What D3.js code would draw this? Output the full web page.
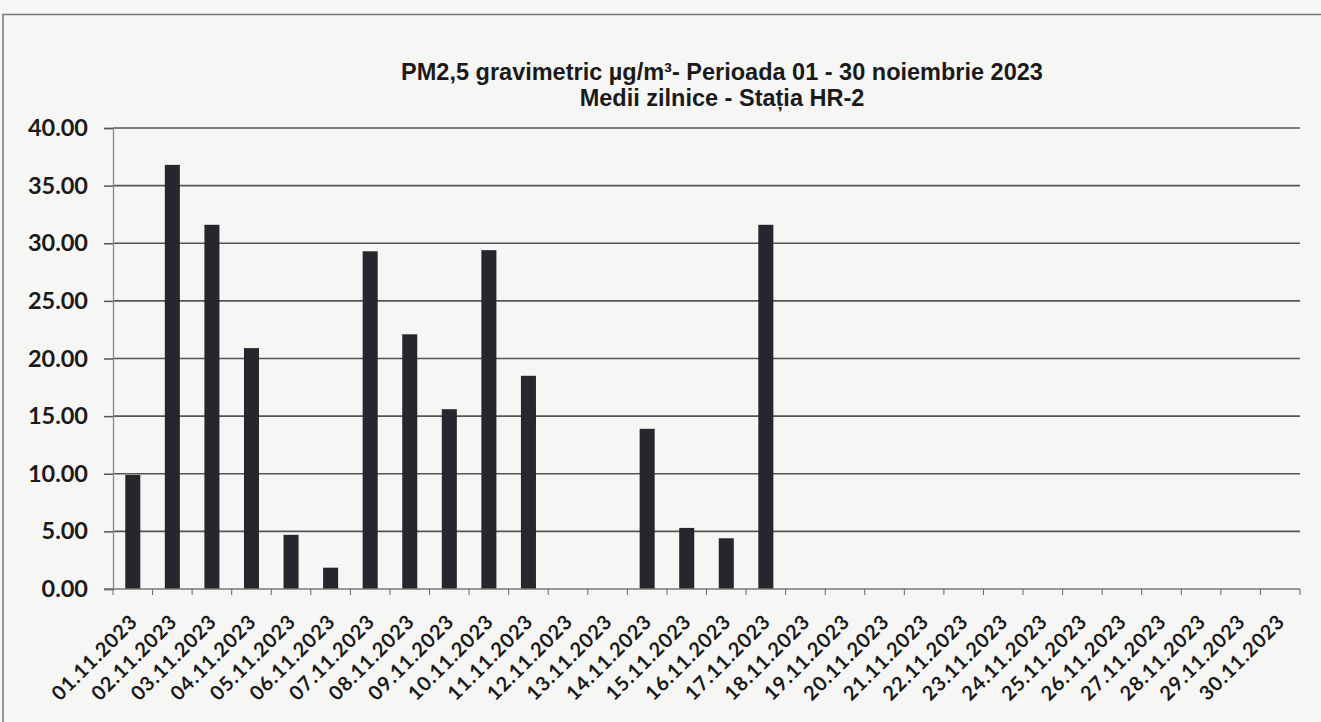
<!DOCTYPE html>
<html lang="ro">
<head>
  <meta charset="UTF-8">
  <title>PM2,5 gravimetric - noiembrie 2023</title>
  <script src="https://d3js.org/d3.v7.min.js"></script>
  <style>
    body { margin: 0; background: #f6f6f4; }
    svg { display: block; }
  </style>
</head>
<body>
  <div id="chart"></div>
  <script>
    const width = 1321;
    const height = 722;

    const days = d3.range(1, 31).map(d => String(d).padStart(2, "0") + ".11.2023");
    const values = [9.9, 36.8, 31.6, 20.9, 4.7, 1.85, 29.3, 22.1, 15.6, 29.4,
                    18.5, null, null, 13.9, 5.3, 4.4, 31.6, null, null, null,
                    null, null, null, null, null, null, null, null, null, null];
    const yTicks = [0, 5, 10, 15, 20, 25, 30, 35, 40];
    const titleLines = ["PM2,5 gravimetric µg/m³- Perioada 01 - 30 noiembrie 2023",
                        "Medii zilnice - Stația HR-2"];

    const margin = { top: 128, right: 21, bottom: 133, left: 113 };

    const svg = d3.select("#chart").append("svg")
      .attr("width", width).attr("height", height);

    // outer frame
    svg.append("path")
      .attr("d", "M3,722 L3,14.5 L1321,14.5")
      .attr("fill", "none").attr("stroke", "#777").attr("stroke-width", 1.5);

    const x = d3.scaleBand()
      .domain(days)
      .range([margin.left, width - margin.right])
      .paddingInner(0.62).paddingOuter(0.31);

    const y = d3.scaleLinear()
      .domain([0, 40])
      .range([height - margin.bottom, margin.top]);

    // gridlines
    svg.append("g")
      .selectAll("line")
      .data(yTicks.filter(t => t > 0))
      .join("line")
      .attr("x1", margin.left).attr("x2", width - margin.right)
      .attr("y1", d => y(d)).attr("y2", d => y(d))
      .attr("stroke", "#555").attr("stroke-width", 1.6);

    // bars
    svg.append("g")
      .selectAll("rect")
      .data(days.map((d, i) => ({ day: d, v: values[i] })).filter(d => d.v != null))
      .join("rect")
      .attr("x", d => x(d.day))
      .attr("width", x.bandwidth())
      .attr("y", d => y(d.v))
      .attr("height", d => y(0) - y(d.v))
      .attr("fill", "#26262c");

    // y axis
    const yAxis = svg.append("g")
      .attr("transform", `translate(${margin.left},0)`)
      .call(d3.axisLeft(y).tickValues(yTicks).tickFormat(d3.format(".2f")).tickSize(9).tickPadding(16));
    yAxis.select(".domain").attr("stroke", "#888").attr("stroke-width", 1.3);
    yAxis.selectAll(".tick line").attr("stroke", "#555").attr("stroke-width", 1.5);
    yAxis.selectAll("text")
      .attr("font-family", "Lato, Open Sans, sans-serif")
      .attr("font-weight", "bold").attr("font-size", 23.5).attr("fill", "#1a1a1a");

    // x axis: ticks at category boundaries
    const step = x.step();
    const boundaries = d3.range(days.length + 1).map(i => margin.left + i * step);
    const xg = svg.append("g");
    xg.append("line")
      .attr("x1", margin.left - 9).attr("x2", width - margin.right)
      .attr("y1", y(0)).attr("y2", y(0))
      .attr("stroke", "#777").attr("stroke-width", 1.3);
    xg.selectAll(".bt")
      .data(boundaries)
      .join("line").attr("class", "bt")
      .attr("x1", d => d).attr("x2", d => d)
      .attr("y1", y(0)).attr("y2", y(0) + 6)
      .attr("stroke", "#666");

    xg.selectAll("text")
      .data(days)
      .join("text")
      .attr("transform", d => `translate(${x(d) + x.bandwidth() / 2 + 6},${y(0) + 34}) rotate(-45)`)
      .attr("text-anchor", "end")
      .attr("font-family", "Lato, Open Sans, sans-serif")
      .attr("font-weight", "bold").attr("font-size", 20).attr("letter-spacing", 0.9)
      .attr("fill", "#1a1a1a")
      .text(d => d);

    // title
    svg.append("g")
      .selectAll("text")
      .data(titleLines)
      .join("text")
      .attr("x", 722)
      .attr("y", (d, i) => 80 + i * 26)
      .attr("text-anchor", "middle")
      .attr("font-family", "Liberation Sans, Arial, sans-serif")
      .attr("font-weight", "bold").attr("font-size", 23.5).attr("fill", "#1a1a1a")
      .text(d => d);
  </script>
</body>
</html>
